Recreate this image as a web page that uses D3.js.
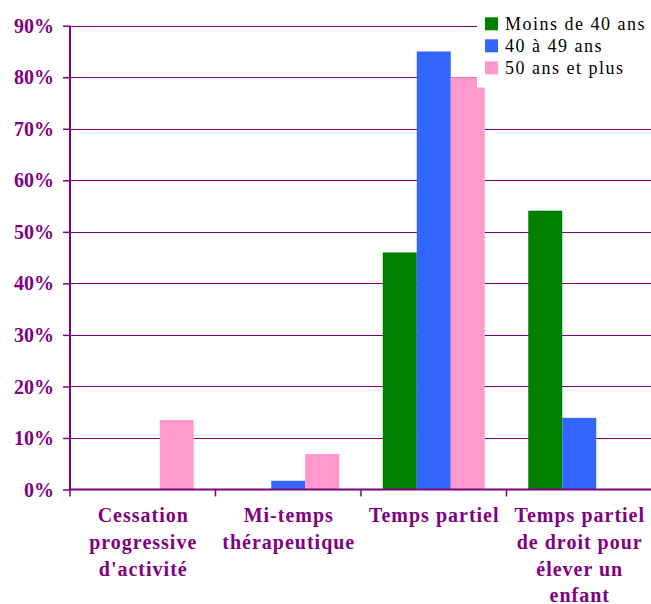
<!DOCTYPE html>
<html><head><meta charset="utf-8">
<script src="https://cdn.jsdelivr.net/npm/d3@7"></script>
<style>html,body{margin:0;padding:0;background:#fff;}svg{display:block;}</style>
</head><body>
<svg id="chart" width="651" height="604"></svg>
<script>
const categories = [
  ["Cessation","progressive","d'activité"],
  ["Mi-temps","thérapeutique"],
  ["Temps partiel"],
  ["Temps partiel","de droit pour","élever un","enfant"]
];
const seriesNames = ["Moins de 40 ans","40 à 49 ans","50 ans et plus"];
const seriesColors = ["#008000","#3366FF","#FF99CC"];
const moins40 = [0, 0, 46, 54.1];
const de40a49 = [0, 1.7, 85, 13.9];
const plus50 = [13.5, 6.9, 80, 0];
const yTicks = [0,10,20,30,40,50,60,70,80,90];

const purple = "#800080";
const font = "Liberation Serif, Times New Roman, Times, serif";
const svg = d3.select("#chart");
const values = [moins40, de40a49, plus50];

const x0 = d3.scaleBand().domain(d3.range(categories.length)).range([70, 652]).padding(0);
const x1 = d3.scaleBand().domain(d3.range(seriesNames.length)).range([0, x0.bandwidth()]).paddingInner(0).paddingOuter(0.64);
const y = d3.scaleLinear().domain([0, 90]).range([489.5, 25.7]);

// gridlines
svg.append("g").selectAll("line").data(yTicks.filter(d=>d>0)).join("line")
  .attr("x1", 70).attr("x2", 651)
  .attr("y1", d=>Math.round(y(d))+0.5).attr("y2", d=>Math.round(y(d))+0.5)
  .attr("stroke", purple).attr("stroke-width", 1);

// bars
const g = svg.append("g");
values.forEach((arr, s) => {
  g.selectAll(null).data(arr.map((v,i)=>({v,i}))).join("rect")
    .attr("x", d => x0(d.i) + x1(s))
    .attr("width", x1.bandwidth())
    .attr("y", d => y(d.v))
    .attr("height", d => y(0) - y(d.v))
    .attr("fill", seriesColors[s]);
});

// legend background (covers plot area)
svg.append("rect").attr("x", 477).attr("y", 0).attr("width", 174).attr("height", 87.5).attr("fill", "#fff");

// y axis
const yAxis = d3.axisLeft(y).tickValues(yTicks).tickSize(7).tickFormat(d => d + "%");
const ya = svg.append("g").attr("transform", "translate(70,0)").call(yAxis);
ya.select(".domain").remove();
ya.selectAll(".tick line").attr("stroke", purple).attr("stroke-width", 1.5);
ya.selectAll(".tick text").attr("fill", purple).style("font-family", font)
  .style("font-weight", "bold").style("font-size", "20px").attr("x", -16).attr("dy", "0.33em");
svg.append("line").attr("x1", 70).attr("x2", 70).attr("y1", y(90)).attr("y2", y(0)+1)
  .attr("stroke", purple).attr("stroke-width", 2);

// x axis
svg.append("line").attr("x1", 69).attr("x2", 651).attr("y1", y(0)).attr("y2", y(0))
  .attr("stroke", purple).attr("stroke-width", 2);
svg.append("g").selectAll("line").data(d3.range(categories.length)).join("line")
  .attr("x1", d => x0(d)).attr("x2", d => x0(d))
  .attr("y1", y(0)).attr("y2", y(0) + 7)
  .attr("stroke", purple).attr("stroke-width", 1.5);

// category labels
categories.forEach((lines, i) => {
  const t = svg.append("text").attr("text-anchor", "middle")
    .style("font-family", font).style("font-weight", "bold").style("font-size", "20px")
    .style("letter-spacing", "1px").attr("fill", purple);
  lines.forEach((ln, k) => {
    t.append("tspan").attr("x", x0(i) + x0.bandwidth()/2 + 0.5).attr("y", 522 + k*26.8).text(ln);
  });
});

// legend
const lg = svg.append("g");
seriesNames.forEach((n, s) => {
  lg.append("rect").attr("x", 485).attr("y", 17.3 + s*22).attr("width", 13).attr("height", 13).attr("fill", seriesColors[s]);
  lg.append("text").attr("x", 505).attr("y", 30 + s*22).style("font-family", font)
    .style("font-size", "18px").style("letter-spacing", "1.5px").attr("fill", "#000").text(n);
});
</script>
</body></html>
